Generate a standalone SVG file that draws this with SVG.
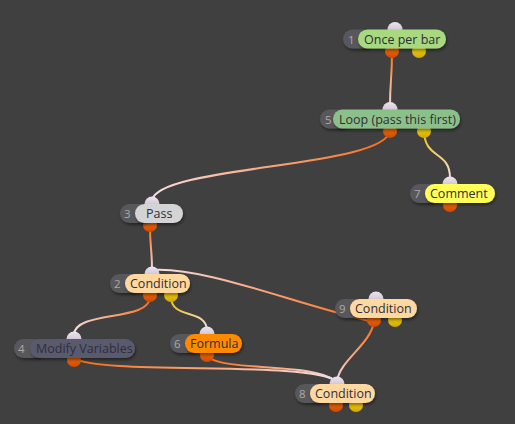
<svg xmlns="http://www.w3.org/2000/svg" width="515" height="424" viewBox="0 0 515 424">
<defs>
<style>
.num{fill:#59595b}
.numt{fill:#a9a9ab;font-family:"Open Sans","DejaVu Sans",sans-serif;font-size:11.5px}
.lbl{font-family:"Open Sans","DejaVu Sans",sans-serif;font-size:12.5px;fill:#2e2e3a}
.in{fill:url(#gin)}
.oo{fill:url(#gor)}
.oy{fill:url(#gye)}
.c{fill:none;stroke-width:2;stroke-linecap:round}
</style>
<linearGradient id="gin" x1="0" y1="0" x2="0" y2="1"><stop offset="0" stop-color="#ece4ee"/><stop offset="1" stop-color="#bfb0c4"/></linearGradient>
<linearGradient id="gor" x1="0" y1="0" x2="0" y2="1"><stop offset="0" stop-color="#ff7a10"/><stop offset="1" stop-color="#d04800"/></linearGradient>
<linearGradient id="gye" x1="0" y1="0" x2="0" y2="1"><stop offset="0" stop-color="#ffe020"/><stop offset="1" stop-color="#d0a800"/></linearGradient>
<filter id="sh" x="-20%" y="-40%" width="140%" height="180%"><feDropShadow dx="1" dy="2" stdDeviation="1.5" flood-color="#000" flood-opacity="0.45"/></filter>
<linearGradient id="e1" gradientUnits="userSpaceOnUse" x1="0" y1="52" x2="0" y2="106"><stop offset="0" stop-color="#ff6a10"/><stop offset="1" stop-color="#f4d6dc"/></linearGradient>
<linearGradient id="e2" gradientUnits="userSpaceOnUse" x1="390" y1="130" x2="152" y2="200"><stop offset="0" stop-color="#ff6a10"/><stop offset="1" stop-color="#f4e0e6"/></linearGradient>
<linearGradient id="e3" gradientUnits="userSpaceOnUse" x1="0" y1="130" x2="0" y2="178"><stop offset="0" stop-color="#f0c000"/><stop offset="1" stop-color="#f4e0e6"/></linearGradient>
<linearGradient id="e4" gradientUnits="userSpaceOnUse" x1="0" y1="226" x2="0" y2="270"><stop offset="0" stop-color="#ff6a10"/><stop offset="1" stop-color="#f4d6dc"/></linearGradient>
<linearGradient id="e5" gradientUnits="userSpaceOnUse" x1="372" y1="322" x2="152" y2="270"><stop offset="0" stop-color="#ff6a10"/><stop offset="1" stop-color="#f4e0e6"/></linearGradient>
<linearGradient id="e6" gradientUnits="userSpaceOnUse" x1="150" y1="297" x2="74" y2="335"><stop offset="0" stop-color="#ff6a10"/><stop offset="1" stop-color="#f4e0e6"/></linearGradient>
<linearGradient id="e7" gradientUnits="userSpaceOnUse" x1="171" y1="297" x2="207" y2="331"><stop offset="0" stop-color="#f0c000"/><stop offset="1" stop-color="#f4e0e6"/></linearGradient>
<linearGradient id="e8" gradientUnits="userSpaceOnUse" x1="74" y1="358" x2="336" y2="381"><stop offset="0" stop-color="#ff6a10"/><stop offset="1" stop-color="#f4e0e6"/></linearGradient>
<linearGradient id="e9" gradientUnits="userSpaceOnUse" x1="207" y1="357" x2="336" y2="381"><stop offset="0" stop-color="#ff6a10"/><stop offset="1" stop-color="#f4e0e6"/></linearGradient>
<linearGradient id="e10" gradientUnits="userSpaceOnUse" x1="372" y1="322" x2="337" y2="381"><stop offset="0" stop-color="#ff6a10"/><stop offset="1" stop-color="#f4d6dc"/></linearGradient>
</defs>
<rect width="515" height="424" fill="#404040"/>
<g id="connectors">
<path class="c" stroke="url(#e1)" d="M392,52 C392,80 390,80 390,106"/>
<path class="c" stroke="url(#e2)" d="M390,130 C388,168 160,165 152,200"/>
<path class="c" stroke="url(#e3)" d="M424,130 C424,160 450,150 450,178"/>
<path class="c" stroke="url(#e4)" d="M150,226 C150,248 152,248 152,270"/>
<path class="c" stroke="url(#e5)" d="M152,270 C205,266 300,306 374,322"/>
<path class="c" stroke="url(#e6)" d="M150,297 C150,322 74,310 74,335"/>
<path class="c" stroke="url(#e7)" d="M171,297 C171,320 207,308 207,331"/>
<path class="c" stroke="url(#e8)" d="M74,358 C100,376 310,360 336,381"/>
<path class="c" stroke="url(#e9)" d="M207,357 C230,372 310,362 336,381"/>
<path class="c" stroke="url(#e10)" d="M374,322 C370,345 340,360 337,381"/>
</g>
<g id="node1">
<circle class="in" cx="395" cy="29.5" r="7.5"/>
<circle class="oo" cx="392" cy="51" r="7"/>
<circle class="oy" cx="419" cy="51" r="7"/>
<rect class="num" x="343" y="29.5" width="30" height="19" rx="9.5" filter="url(#sh)"/>
<text class="numt" x="348" y="43.5">1</text>
<rect x="358" y="29.5" width="88" height="19" rx="9.5" fill="#a8d880" filter="url(#sh)"/>
<text class="lbl" x="364" y="43.5">Once per bar</text>
</g>
<g id="node5">
<circle class="in" cx="390" cy="109.5" r="7.5"/>
<circle class="oo" cx="390" cy="131" r="7"/>
<circle class="oy" cx="424" cy="131" r="7"/>
<rect class="num" x="320" y="109.5" width="30" height="19" rx="9.5" filter="url(#sh)"/>
<text class="numt" x="325" y="123.5">5</text>
<rect x="333" y="109.5" width="127" height="19" rx="9.5" fill="#8cc08a" filter="url(#sh)"/>
<text class="lbl" x="339" y="123.5">Loop (pass this first)</text>
</g>
<g id="node7">
<circle class="in" cx="450" cy="184" r="7.5"/>
<circle class="oo" cx="450" cy="205" r="7"/>
<rect class="num" x="410" y="184" width="30" height="19" rx="9.5" filter="url(#sh)"/>
<text class="numt" x="414" y="198">7</text>
<rect x="425" y="184" width="70" height="19" rx="9.5" fill="#ffff58" filter="url(#sh)"/>
<text class="lbl" x="430" y="198">Comment</text>
</g>
<g id="node3">
<circle class="in" cx="152" cy="204" r="7.5"/>
<circle class="oo" cx="150" cy="225" r="7"/>
<rect class="num" x="120" y="204" width="30" height="19" rx="9.5" filter="url(#sh)"/>
<text class="numt" x="124" y="218">3</text>
<rect x="135" y="204" width="48" height="19" rx="9.5" fill="#d4d4d6" filter="url(#sh)"/>
<text class="lbl" x="146" y="218" fill="#3a3e4a">Pass</text>
</g>
<g id="node2">
<circle class="in" cx="152" cy="274" r="7.5"/>
<circle class="oo" cx="150" cy="295" r="7"/>
<circle class="oy" cx="171" cy="295" r="7"/>
<rect class="num" x="110" y="274" width="30" height="19" rx="9.5" filter="url(#sh)"/>
<text class="numt" x="114" y="288">2</text>
<rect x="125" y="274" width="65" height="19" rx="9.5" fill="#ffd8a0" filter="url(#sh)"/>
<text class="lbl" x="130" y="288">Condition</text>
</g>
<g id="node9">
<circle class="in" cx="376" cy="299" r="7.5"/>
<circle class="oo" cx="374" cy="320" r="7"/>
<circle class="oy" cx="395" cy="320" r="7"/>
<rect class="num" x="335" y="299" width="30" height="19" rx="9.5" filter="url(#sh)"/>
<text class="numt" x="339" y="313">9</text>
<rect x="350" y="299" width="67" height="19" rx="9.5" fill="#ffd8a0" filter="url(#sh)"/>
<text class="lbl" x="355" y="313">Condition</text>
</g>
<g id="node4">
<circle class="in" cx="74" cy="339" r="7.5"/>
<circle class="oo" cx="74" cy="360" r="7"/>
<rect class="num" x="14" y="339" width="30" height="19" rx="9.5" filter="url(#sh)"/>
<text class="numt" x="18" y="353">4</text>
<rect x="30" y="339" width="105" height="19" rx="9.5" fill="#5a5a6e" filter="url(#sh)"/>
<text class="lbl" x="36" y="353" fill="#cfcfe0">Modify Variables</text>
</g>
<g id="node6">
<circle class="in" cx="207" cy="334" r="7.5"/>
<circle class="oo" cx="207" cy="355" r="7"/>
<rect class="num" x="170" y="334" width="30" height="19" rx="9.5" filter="url(#sh)"/>
<text class="numt" x="174" y="348">6</text>
<rect x="185" y="334" width="57" height="19" rx="9.5" fill="#ff8a00" filter="url(#sh)"/>
<text class="lbl" x="190" y="348" fill="#2a2a2a">Formula</text>
</g>
<g id="node8">
<circle class="in" cx="337" cy="384" r="7.5"/>
<circle class="oo" cx="336" cy="405" r="7"/>
<circle class="oy" cx="356" cy="405" r="7"/>
<rect class="num" x="295" y="384" width="30" height="19" rx="9.5" filter="url(#sh)"/>
<text class="numt" x="299" y="398">8</text>
<rect x="310" y="384" width="65" height="19" rx="9.5" fill="#ffd8a0" filter="url(#sh)"/>
<text class="lbl" x="315" y="398">Condition</text>
</g>
</svg>
